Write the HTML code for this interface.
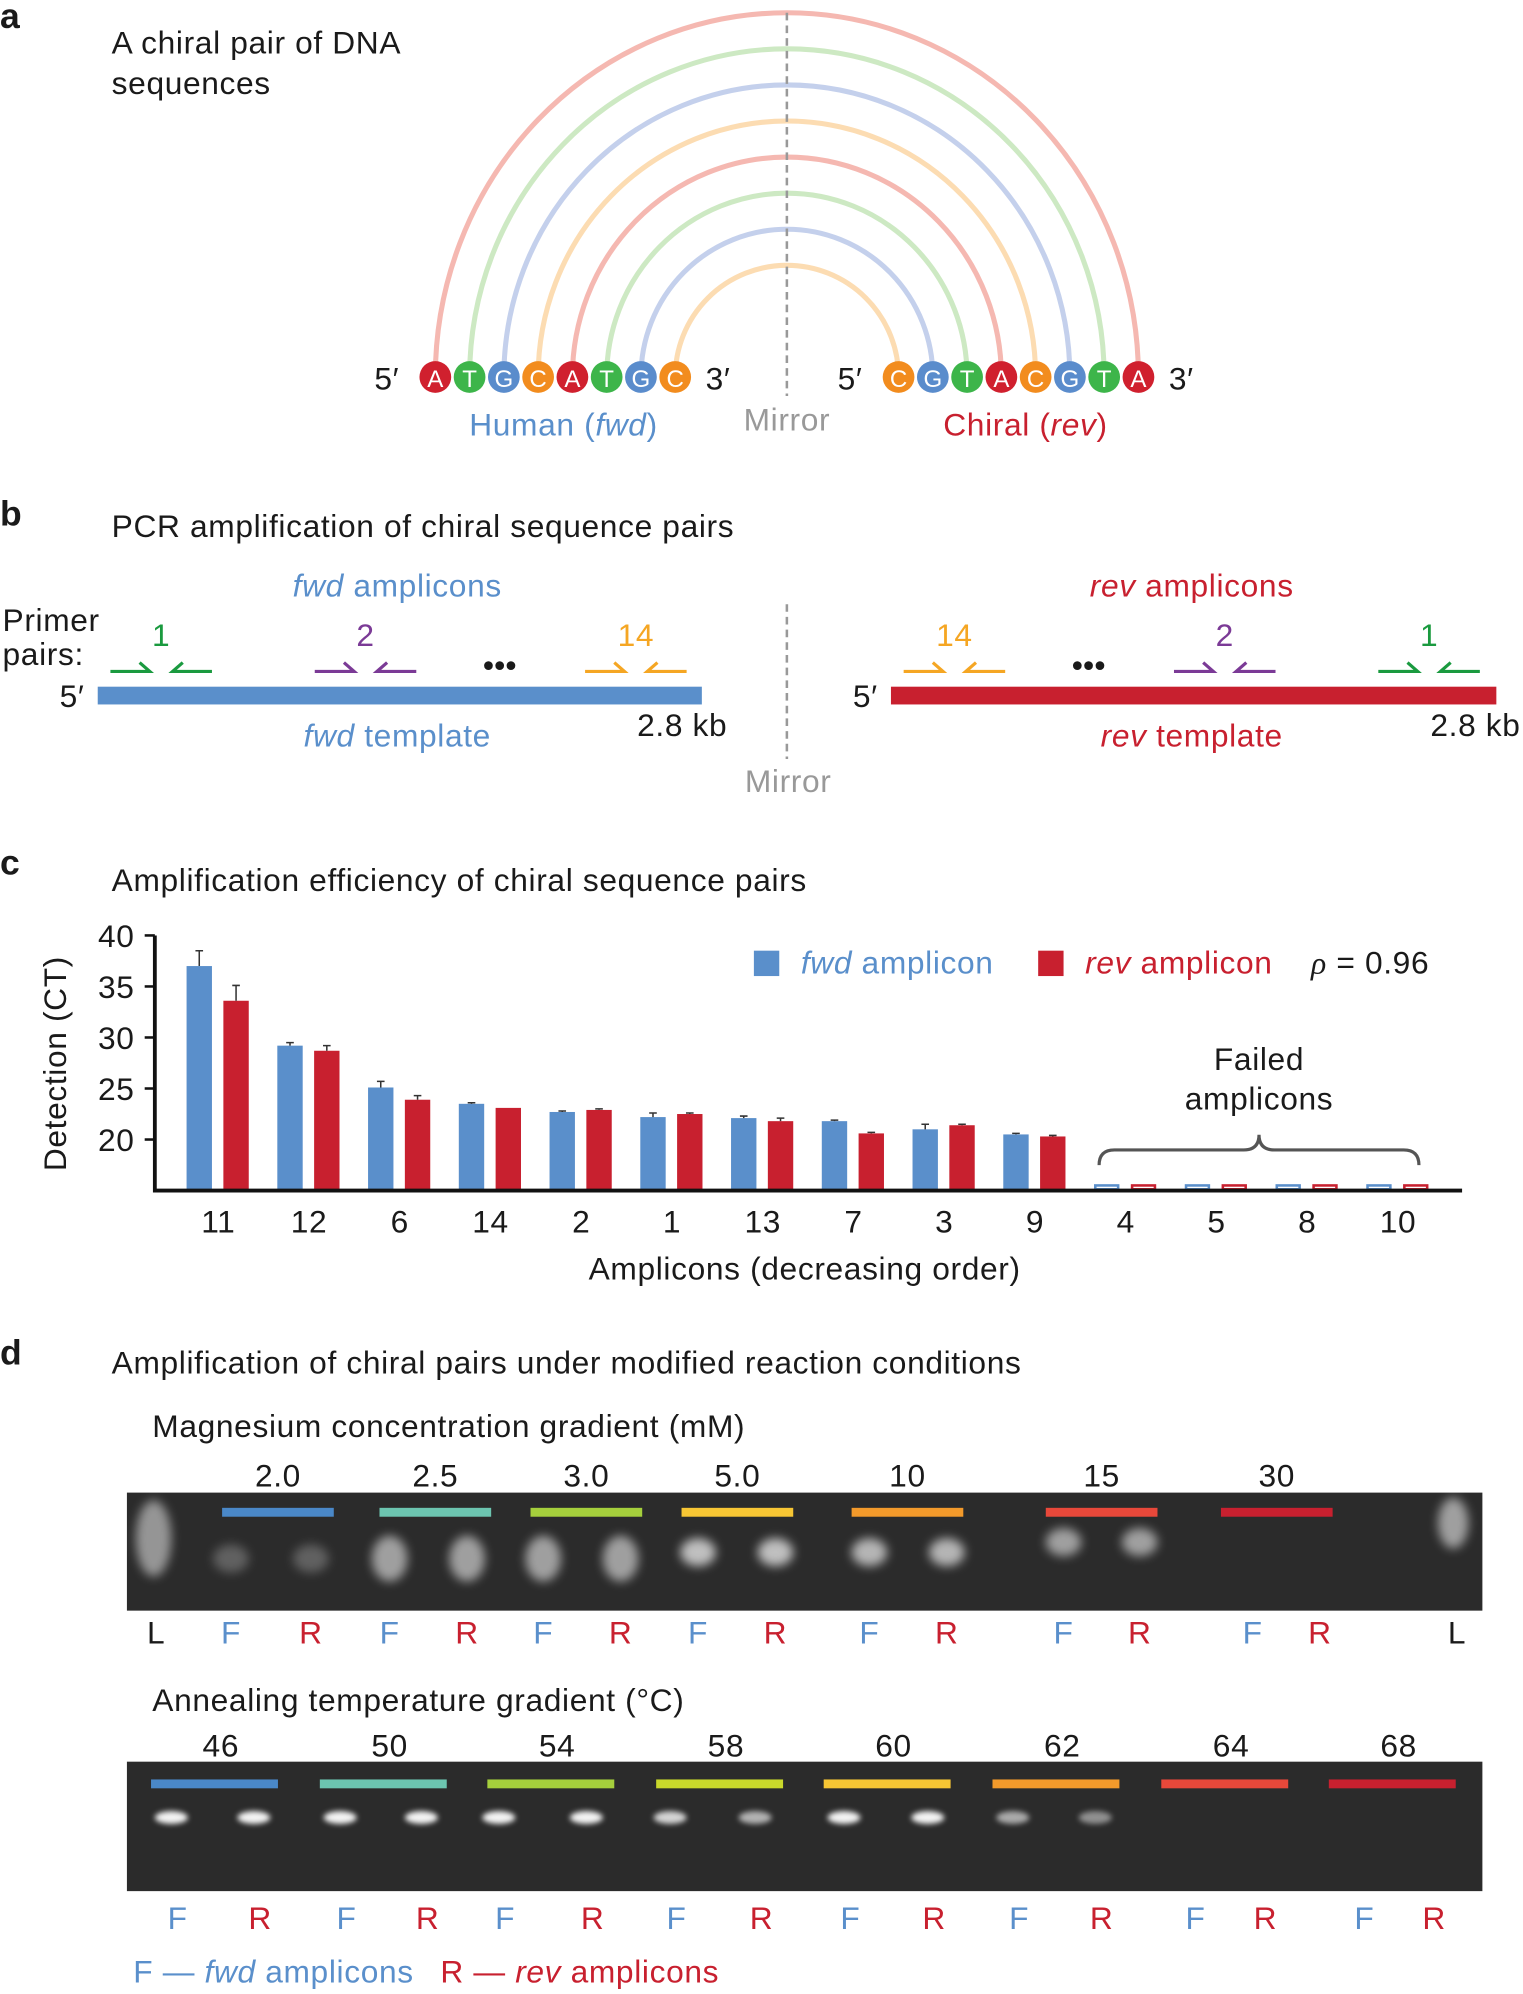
<!DOCTYPE html>
<html><head><meta charset="utf-8"><style>
html,body{margin:0;padding:0;background:#fff}
svg{display:block}
text{font-family:"Liberation Sans",sans-serif;fill:#1a1a1a;letter-spacing:0.5px}
</style></head><body>
<svg id="fig" width="1523" height="1994" viewBox="0 0 1200 1571" xmlns="http://www.w3.org/2000/svg">
<defs>
<filter id="blur" x="-50%" y="-50%" width="200%" height="200%"><feGaussianBlur stdDeviation="4"/></filter>
<filter id="blur2" x="-50%" y="-50%" width="200%" height="200%"><feGaussianBlur stdDeviation="2"/></filter>
</defs>
<!-- panel a -->
<text x="0" y="22" font-size="28" font-weight="bold">a</text>
<text x="88" y="42" font-size="25">A chiral pair of DNA</text>
<text x="88" y="74" font-size="25">sequences</text>
<g id="arcs"></g>
<line x1="620" y1="10" x2="620" y2="312" stroke="#999" stroke-width="2" stroke-dasharray="6,4"/>
<g id="bases"></g>
<text x="295" y="307" font-size="25">5′</text>
<text x="556" y="307" font-size="25">3′</text>
<text x="660" y="307" font-size="25">5′</text>
<text x="921" y="307" font-size="25">3′</text>
<text x="444" y="343" font-size="25" text-anchor="middle" style="fill:#5a8fcb">Human (<tspan font-style="italic">fwd</tspan>)</text>
<text x="620" y="339" font-size="25" text-anchor="middle" style="fill:#999">Mirror</text>
<text x="808" y="343" font-size="25" text-anchor="middle" style="fill:#c8202f">Chiral (<tspan font-style="italic">rev</tspan>)</text>

<!-- panel b -->
<text x="0" y="414" font-size="28" font-weight="bold">b</text>
<text x="88" y="423" font-size="25">PCR amplification of chiral sequence pairs</text>
<text x="313" y="470" font-size="25" text-anchor="middle" style="fill:#5a8fcb"><tspan font-style="italic">fwd</tspan> amplicons</text>
<text x="939" y="470" font-size="25" text-anchor="middle" style="fill:#c8202f"><tspan font-style="italic">rev</tspan> amplicons</text>
<text x="2" y="497" font-size="25">Primer</text>
<text x="2" y="524" font-size="25">pairs:</text>
<line x1="620" y1="476" x2="620" y2="598" stroke="#999" stroke-width="2" stroke-dasharray="6,4"/>
<text x="621" y="624" font-size="25" text-anchor="middle" style="fill:#999">Mirror</text>
<text x="47" y="557" font-size="25">5′</text>
<rect x="77" y="541" width="476" height="14" fill="#5a8fcb"/>
<text x="313" y="588" font-size="25" text-anchor="middle" style="fill:#5a8fcb"><tspan font-style="italic">fwd</tspan> template</text>
<text x="502" y="580" font-size="25">2.8 kb</text>
<text x="672" y="557" font-size="25">5′</text>
<rect x="702" y="541" width="477" height="14" fill="#c8202f"/>
<text x="939" y="588" font-size="25" text-anchor="middle" style="fill:#c8202f"><tspan font-style="italic">rev</tspan> template</text>
<text x="1127" y="580" font-size="25">2.8 kb</text>
<g id="primers"></g>
<text x="394" y="532" font-size="24" text-anchor="middle" font-weight="bold">•••</text>
<text x="858" y="532" font-size="24" text-anchor="middle" font-weight="bold">•••</text>

<!-- panel c -->
<text x="0" y="689" font-size="28" font-weight="bold">c</text>
<text x="88" y="702" font-size="25">Amplification efficiency of chiral sequence pairs</text>
<g id="chart"></g>
<text transform="translate(52,838) rotate(-90)" font-size="25" text-anchor="middle">Detection (CT)</text>
<text x="634" y="1008" font-size="25" text-anchor="middle">Amplicons (decreasing order)</text>
<rect x="594" y="749" width="20" height="20" fill="#5a8fcb"/>
<text x="631" y="767" font-size="25" style="fill:#5a8fcb"><tspan font-style="italic">fwd</tspan> amplicon</text>
<rect x="818" y="749" width="20" height="20" fill="#c8202f"/>
<text x="855" y="767" font-size="25" style="fill:#c8202f"><tspan font-style="italic">rev</tspan> amplicon</text>
<text x="1033" y="767" font-size="25"><tspan font-style="italic" font-family="Liberation Serif">ρ</tspan> = 0.96</text>
<text x="992" y="843" font-size="25" text-anchor="middle">Failed</text>
<text x="992" y="874" font-size="25" text-anchor="middle">amplicons</text>
<path d="M866,918 Q866,906 878,906 L980,906 Q992,906 992,894 Q992,906 1004,906 L1106,906 Q1118,906 1118,918" fill="none" stroke="#555" stroke-width="2.5"/>

<!-- panel d -->
<text x="0" y="1075" font-size="28" font-weight="bold">d</text>
<text x="88" y="1082" font-size="25">Amplification of chiral pairs under modified reaction conditions</text>
<text x="120" y="1132" font-size="25">Magnesium concentration gradient (mM)</text>
<text x="120" y="1348" font-size="25">Annealing temperature gradient (°C)</text>
<rect x="100" y="1176" width="1068" height="93" fill="#2b2b2b"/>
<rect x="100" y="1388" width="1068" height="102" fill="#2b2b2b"/>
<g id="gels"></g>
<text x="105" y="1562" font-size="25" style="fill:#5a8fcb">F — <tspan font-style="italic">fwd</tspan> amplicons</text>
<text x="347" y="1562" font-size="25" style="fill:#c8202f">R — <tspan font-style="italic">rev</tspan> amplicons</text>
</svg>
<script>
// ---- chart data ----
const categories = ["11","12","6","14","2","1","13","7","3","9","4","5","8","10"];
const fwdValues = [37.0,29.2,25.1,23.5,22.7,22.2,22.1,21.8,21.0,20.5,15.5,15.5,15.5,15.5];
const revValues = [33.6,28.7,23.9,23.1,22.9,22.5,21.8,20.6,21.4,20.3,15.5,15.5,15.5,15.5];
const fwdErr = [1.5,0.3,0.6,0.1,0.1,0.4,0.2,0.1,0.5,0.1,0,0,0,0];
const revErr = [1.5,0.5,0.4,0,0.1,0.1,0.3,0.1,0.1,0.1,0,0,0,0];
const failed = [false,false,false,false,false,false,false,false,false,false,true,true,true,true];
const yTicks = [20,25,30,35,40];

const NS="http://www.w3.org/2000/svg";
function mk(tag,attrs,parent,txt){const e=document.createElementNS(NS,tag);for(const k in attrs)e.setAttribute(k,attrs[k]);if(txt!==undefined)e.textContent=txt;parent.appendChild(e);return e;}

// panel a
const arcs=document.getElementById('arcs');
const arcCols=["#f5b8b1","#cde9c3","#c4d0ec","#fcdcb2"];
for(let i=0;i<8;i++){const r=277-27*i;const ry=r+(r-88)*10/189;const el=mk('path',{d:`M${620-r},297 A${r},${ry} 0 0 1 ${620+r},297`,fill:'none',stroke:arcCols[i%4],'stroke-width':4},arcs);

}
const bases=document.getElementById('bases');
const baseCol={A:"#d0202e",T:"#3db54a",G:"#5a8ccc",C:"#f28c1e"};
const leftSeq="ATGCATGC",rightSeq="CGTACGTA";
function drawBase(x,b){const g=mk('g',{},bases);


mk('circle',{cx:x,cy:297,r:12.5,fill:baseCol[b]},g);
mk('text',{x:x,y:305,'font-size':19,'text-anchor':'middle',style:'fill:#fff;letter-spacing:0'},g,b);}
for(let i=0;i<8;i++){drawBase(343+27*i,leftSeq[i]);drawBase(708+27*i,rightSeq[i]);}

// panel b primers
const pr=document.getElementById('primers');
function primerPair(cx,col,label){const g=mk('g',{},pr);


mk('path',{d:`M${cx-40},529 L${cx-9},529 L${cx-17},522`,fill:'none',stroke:col,'stroke-width':2.5},g);
mk('path',{d:`M${cx+40},529 L${cx+9},529 L${cx+17},522`,fill:'none',stroke:col,'stroke-width':2.5},g);
mk('text',{x:cx,y:509,'font-size':25,'text-anchor':'middle',style:'fill:'+col},g,label);}
primerPair(127,"#1a9a3f","1");primerPair(288,"#7b3a96","2");primerPair(501,"#f5a623","14");
primerPair(752,"#f5a623","14");primerPair(965,"#7b3a96","2");primerPair(1126,"#1a9a3f","1");

// panel c chart
const chart=document.getElementById('chart');
const y0=15, yTop=40, pyTop=737, pyBot=938;
function yS(v){return pyBot-(v-y0)/(yTop-y0)*(pyBot-pyTop);}
function xS(i){return 172+71.5*i;}
const bw=20;
categories.forEach((c,i)=>{
 const cx=xS(i);
 [[fwdValues,fwdErr,"#5a8fcb",-15,'fwd'],[revValues,revErr,"#c8202f",14,'rev']].forEach(([vals,errs,col,off,nm])=>{
  const v=vals[i];const x=cx+off-bw/2;
  let b;
  if(failed[i]){b=mk('rect',{x:x+1,y:yS(v),width:bw-2,height:pyBot-yS(v)-1,fill:'#fff',stroke:col,'stroke-width':2},chart);}
  else{b=mk('rect',{x:x,y:yS(v),width:bw,height:pyBot-yS(v),fill:col},chart);
   const e=errs[i];if(e>0){const eb=mk('path',{d:`M${cx+off},${yS(v)} L${cx+off},${yS(v+e)} M${cx+off-3},${yS(v+e)} L${cx+off+3},${yS(v+e)}`,stroke:'#333','stroke-width':1.2,fill:'none'},chart);
   
   }}
  
  
 });
 const t=mk('text',{x:cx,y:971,'font-size':25,'text-anchor':'middle'},chart,c);
 
 
});
const ax=mk('path',{d:`M122,${pyTop} L122,${pyBot} L1152,${pyBot}`,fill:'none',stroke:'#111','stroke-width':3},chart);


yTicks.forEach(t=>{const l=mk('line',{x1:114,x2:122,y1:yS(t),y2:yS(t),stroke:'#111','stroke-width':2},chart);


const tx=mk('text',{x:106,y:yS(t)+9,'font-size':25,'text-anchor':'end'},chart,String(t));

});

// panel d gels
const gels=document.getElementById('gels');
function band(x,y,w,h,op,blur){const e=mk('ellipse',{cx:x,cy:y,rx:w,ry:h,fill:'#fff',opacity:op,filter:blur},gels);

}
function lbl(x,y,t,col,nm){const e=mk('text',{x:x,y:y,'font-size':25,'text-anchor':'middle',style:'fill:'+col},gels,t);

}
function bar(x1,x2,y,col){const e=mk('rect',{x:x1,y:y,width:x2-x1,height:7,fill:col},gels);

}
// gel 1
const mgLabels=["2.0","2.5","3.0","5.0","10","15","30"];
const mgX=[219,343,462,581,715,868,1006];
const mgCols=["#4a88c8","#6cc5b0","#a5cf3c","#f7c634","#f39a2b","#e8483a","#c8202f"];
const mgF=[182,307,428,550,685,838,987],mgR=[245,368,489,611,746,898,1040];
const mgOp=[0.25,0.55,0.55,0.7,0.65,0.55,0];
mgLabels.forEach((l,i)=>{lbl(mgX[i],1171,l,'#1a1a1a','mg-label');bar(mgX[i]-44,mgX[i]+44,1188,mgCols[i]);
 const yy=i==5?1215:1223;
 if(mgOp[i]>0){band(mgF[i],yy+(i<3?5:0),14,i<3&&i>0?18:11,mgOp[i],'url(#blur)');band(mgR[i],yy+(i<3?5:0),14,i<3&&i>0?18:11,mgOp[i],'url(#blur)');}
 lbl(mgF[i],1295,'F','#5a8fcb','lane-label-f');lbl(mgR[i],1295,'R','#c8202f','lane-label-r');});
band(121,1212,14,30,0.5,'url(#blur)');band(1145,1200,12,20,0.55,'url(#blur)');
lbl(123,1295,'L','#1a1a1a','ladder-label');lbl(1148,1295,'L','#1a1a1a','ladder-label');
// gel 2
const tLabels=["46","50","54","58","60","62","64","68"];
const tX=[169,302,434,567,699,832,965,1097];
const tCols=["#4a88c8","#6cc5b0","#a5cf3c","#c9d82b","#f7c634","#f39a2b","#e8483a","#c8202f"];
const tF=[140,273,398,533,670,803,942,1075],tR=[205,337,467,600,736,868,997,1130];
const tOp=[0.95,0.95,0.95,0.8,0.95,0.6,0,0];
tLabels.forEach((l,i)=>{lbl(tX[i]+5,1384,l,'#1a1a1a','temp-label');bar(tX[i]-50,tX[i]+50,1402,tCols[i]);
 if(tOp[i]>0){band(tF[i]-5,1432,13,5,tOp[i],'url(#blur2)');band(tR[i]-5,1432,13,5,tOp[i]*(i==3||i==5?0.8:1),'url(#blur2)');}
 lbl(tF[i],1520,'F','#5a8fcb','lane-label-f');lbl(tR[i],1520,'R','#c8202f','lane-label-r');});
</script>
</body></html>
